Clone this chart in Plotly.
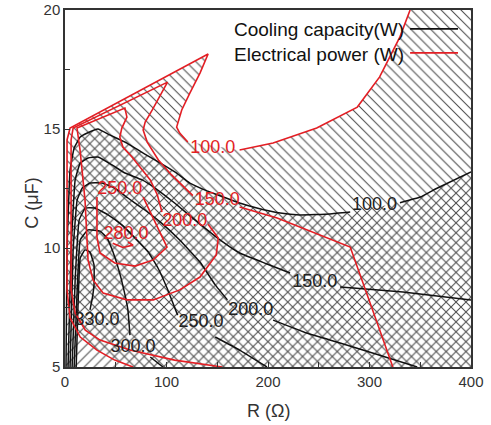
import plotly.graph_objects as go

# ---------------- data (R in ohm, C in uF) ----------------
# Electrical power contours (red)
p100_a_r = [340, 330, 310, 288, 248, 205, 172]
p100_a_c = [20, 18.87, 17.19, 15.92, 15.04, 14.41, 14.12]
p100_b_r = [121, 113, 110, 115, 123, 133, 141, 5, 2, 2, 5, 15, 31.5, 49, 67]
p100_b_c = [14.45, 14.83, 15.08, 15.8, 16.51, 17.35, 18.15, 15.04, 14.54, 8.24, 7.06, 6.26, 5.71, 5.29, 5.0]

p150_a_r = [323, 281, 209, 172]
p150_a_c = [5, 10.04, 11.26, 11.72]
p150_b_r = [126, 105, 92, 81, 77, 79, 86, 94, 101, 8, 6, 6, 10, 20, 34.5, 64, 108, 155]
p150_b_c = [12.2, 13.07, 13.7, 14.45, 14.96, 15.29, 15.8, 16.43, 16.97, 15.04, 14.54, 8.24, 7.27, 6.55, 6.13, 5.71, 5.29, 5.0]

p200_r = [141, 151, 149, 133, 113, 87, 61, 37.5, 27.6, 22.7, 19.7, 14.8, 11.8, 59, 61, 56, 54, 57, 66, 74, 84, 91, 95.5]
p200_c = [11.0, 10.42, 9.71, 8.78, 8.24, 7.82, 7.82, 8.11, 8.66, 9.5, 12.02, 14.12, 15.04, 15.88, 15.5, 15.04, 14.66, 14.24, 13.82, 13.4, 12.86, 12.23, 11.51]

p250_r = [77, 89, 100.5, 87, 69, 49, 34.5, 31.5, 31.5]
p250_c = [12.14, 11.09, 10.04, 9.5, 9.24, 9.37, 9.79, 10.46, 12.14]

p280_r = [47, 57, 67, 62]
p280_c = [10.2, 10.02, 10.12, 10.25]

# Cooling capacity contours (black)
q100_a_r = [1, 2, 5, 9, 15, 22, 32.5, 44, 61, 77, 94, 110, 123, 140, 156, 172, 189, 212, 231.5, 261, 281]
q100_a_c = [5, 9.92, 13.28, 14.2, 14.66, 14.83, 15.0, 14.75, 14.41, 13.99, 13.57, 13.15, 12.73, 12.4, 12.14, 11.89, 11.68, 11.47, 11.39, 11.43, 11.51]
q100_b_r = [330, 350, 366, 400]
q100_b_c = [11.9, 12.14, 12.5, 13.2]

q150_a_r = [3, 6, 10, 15, 22.7, 32.5, 46.3, 59, 76, 88.7, 108, 133, 152.7, 172, 199, 221.7]
q150_a_c = [5, 9.92, 12.86, 13.57, 13.78, 13.82, 13.49, 13.15, 12.86, 12.52, 11.89, 11.0, 10.34, 9.79, 9.33, 8.95]
q150_b_r = [271, 284, 333, 400]
q150_b_c = [8.36, 8.32, 8.15, 7.82]

q200_a_r = [5, 8, 12, 17, 24.6, 36.5, 49, 62, 76, 94, 113, 133, 148, 160]
q200_a_c = [5, 9.92, 12.02, 12.52, 12.73, 12.73, 12.52, 12.1, 11.68, 11.09, 10.34, 9.41, 8.45, 7.82]
q200_b_r = [205, 238, 271, 303, 347]
q200_b_c = [6.97, 6.43, 6.01, 5.59, 5.0]

q250_a_r = [7, 10, 14, 20, 29.5, 42.4, 56, 69, 82, 91.6, 100.5, 107, 111]
q250_a_c = [5, 8.66, 11.18, 11.68, 11.68, 11.39, 10.97, 10.42, 9.83, 9.16, 8.32, 7.61, 7.18]
q250_b_r = [148, 172, 199]
q250_b_c = [6.26, 5.71, 5.0]

q300_a_r = [9, 12, 15, 22.7, 34.5, 41.4, 47.3, 53, 58, 62, 64]
q300_a_c = [5, 8.24, 10.34, 10.76, 10.71, 10.42, 9.83, 9.08, 8.24, 7.39, 6.34]
q300_b_r = [84, 96.5]
q300_b_c = [5.42, 5.0]

q330_r = [11, 13, 15, 19.7, 24.6, 28.6, 28.6, 26.6, 24.6]
q330_c = [5, 7.82, 9.58, 9.92, 9.83, 9.29, 8.45, 7.82, 7.4]

# contour labels
p_lab_text = ["100.0", "150.0", "200.0", "250.0", "280.0"]
p_lab_r = [145.5, 150, 118, 54, 60]
p_lab_c = [14.2, 12.0, 11.13, 12.44, 10.55]
q_lab_text = ["100.0", "150.0", "200.0", "250.0", "300.0", "330.0"]
q_lab_r = [305, 246, 183, 134, 67, 31.5]
q_lab_c = [11.8, 8.53, 7.39, 6.85, 5.8, 6.97]

legend_names = ["Cooling capacity(W)", "Electrical power (W)"]
x_title = "R (Ω)"
y_title = "C (μF)"

R_MIN, R_MAX, C_MIN, C_MAX = 0, 400, 5, 20

# ---------------- figure ----------------
RED = "#e31e24"
BLACK = "#111111"
HATCH = "#4a4a4a"
FONT = "Liberation Sans, Arial, sans-serif"

fig = go.Figure()

# hatched region: electrical power >= 100 (backslash hatch)
pw_x = p100_a_r + p100_b_r + [R_MAX, R_MAX]
pw_y = p100_a_c + p100_b_c + [C_MIN, C_MAX]
fig.add_trace(go.Scatter(
    x=pw_x, y=pw_y, mode="none", fill="toself", fillcolor="rgba(0,0,0,0)",
    fillpattern=dict(shape="\\", size=7, solidity=0.15, fgcolor=HATCH,
                     bgcolor="rgba(0,0,0,0)", fillmode="replace"),
    hoverinfo="skip", showlegend=False))

# hatched region: cooling capacity >= 100 (slash hatch)
cw_x = q100_a_r + q100_b_r + [R_MAX]
cw_y = q100_a_c + q100_b_c + [C_MIN]
fig.add_trace(go.Scatter(
    x=cw_x, y=cw_y, mode="none", fill="toself", fillcolor="rgba(0,0,0,0)",
    fillpattern=dict(shape="/", size=7, solidity=0.15, fgcolor=HATCH,
                     bgcolor="rgba(0,0,0,0)", fillmode="replace"),
    hoverinfo="skip", showlegend=False))

red_lines = [(p100_a_r, p100_a_c), (p100_b_r, p100_b_c), (p150_a_r, p150_a_c),
             (p150_b_r, p150_b_c), (p200_r, p200_c), (p250_r, p250_c), (p280_r, p280_c)]
black_lines = [(q100_a_r, q100_a_c), (q100_b_r, q100_b_c), (q150_a_r, q150_a_c),
               (q150_b_r, q150_b_c), (q200_a_r, q200_a_c), (q200_b_r, q200_b_c),
               (q250_a_r, q250_a_c), (q250_b_r, q250_b_c), (q300_a_r, q300_a_c),
               (q300_b_r, q300_b_c), (q330_r, q330_c)]

for xs, ys in black_lines:
    fig.add_trace(go.Scatter(x=xs, y=ys, mode="lines",
                             line=dict(color=BLACK, width=1.5, shape="spline", smoothing=0.3),
                             hoverinfo="skip", showlegend=False))
for xs, ys in red_lines:
    fig.add_trace(go.Scatter(x=xs, y=ys, mode="lines",
                             line=dict(color=RED, width=1.6),
                             hoverinfo="skip", showlegend=False))

fig.add_trace(go.Scatter(x=q_lab_r, y=q_lab_c, mode="text", text=q_lab_text,
                         textfont=dict(family=FONT, size=18, color="#222222"),
                         hoverinfo="skip", showlegend=False))
fig.add_trace(go.Scatter(x=p_lab_r, y=p_lab_c, mode="text", text=p_lab_text,
                         textfont=dict(family=FONT, size=18, color=RED),
                         hoverinfo="skip", showlegend=False))

# legend (text on the left, line sample on the right)
fig.add_annotation(x=0.411, y=0.944, xref="paper", yref="paper", text=legend_names[0],
                   showarrow=False, xanchor="left", yanchor="middle",
                   font=dict(family=FONT, size=19, color="#111111"))
fig.add_annotation(x=0.411, y=0.874, xref="paper", yref="paper", text=legend_names[1],
                   showarrow=False, xanchor="left", yanchor="middle",
                   font=dict(family=FONT, size=19, color="#111111"))
fig.add_shape(type="line", xref="paper", yref="paper", x0=0.850, x1=0.968, y0=0.947, y1=0.947,
              line=dict(color=BLACK, width=1.6))
fig.add_shape(type="line", xref="paper", yref="paper", x0=0.850, x1=0.968, y0=0.880, y1=0.880,
              line=dict(color=RED, width=1.6))

# axis titles
fig.add_annotation(x=0.5, y=-0.123, xref="paper", yref="paper", text=x_title,
                   showarrow=False, xanchor="center", yanchor="middle",
                   font=dict(family=FONT, size=18, color="#333333"))
fig.add_annotation(x=-0.08, y=0.459, xref="paper", yref="paper", text=y_title,
                   showarrow=False, xanchor="center", yanchor="middle", textangle=-90,
                   font=dict(family=FONT, size=18, color="#333333"))

axis_common = dict(showgrid=False, zeroline=False, showline=True, linecolor="#333333",
                   linewidth=1.5, mirror=True, ticks="inside", ticklen=5,
                   tickcolor="#333333", tickwidth=1, automargin=False,
                   tickfont=dict(family=FONT, size=15, color="#333333"))

fig.update_xaxes(range=[R_MIN, R_MAX], tick0=0, dtick=100,
                 minor=dict(dtick=50, ticks="inside", ticklen=5, tickcolor="#333333"),
                 **axis_common)
fig.update_yaxes(range=[C_MIN, C_MAX], tick0=5, dtick=5,
                 minor=dict(dtick=2.5, ticks="inside", ticklen=5, tickcolor="#333333"),
                 **axis_common)

fig.update_layout(width=491, height=425,
                  margin=dict(l=65, r=20, t=10, b=58),
                  paper_bgcolor="white", plot_bgcolor="white",
                  showlegend=False)

fig.write_html("out.html", config={"displayModeBar": False},
               post_script="document.body.style.margin='0';")
